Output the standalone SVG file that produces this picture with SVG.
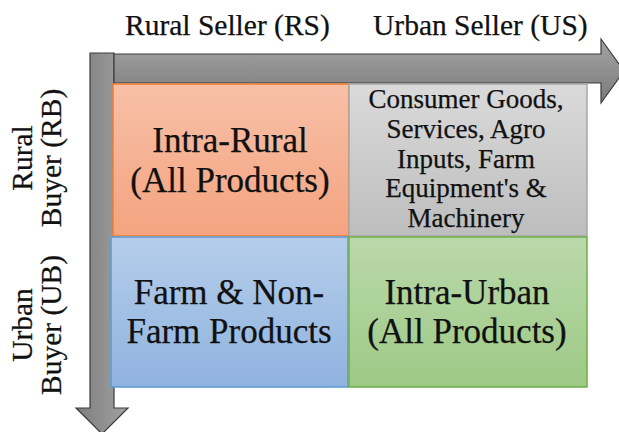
<svg xmlns="http://www.w3.org/2000/svg" width="619" height="432" viewBox="0 0 619 432">
  <defs>
    <linearGradient id="gArrowH" x1="0" y1="0" x2="0" y2="1">
      <stop offset="0" stop-color="#a3a3a3"/>
      <stop offset="1" stop-color="#7b7b7b"/>
    </linearGradient>
    <linearGradient id="gArrowV" x1="0" y1="0" x2="1" y2="0">
      <stop offset="0" stop-color="#7d7d7d"/>
      <stop offset="1" stop-color="#a2a2a2"/>
    </linearGradient>
    <linearGradient id="gOrange" x1="0" y1="0" x2="0" y2="1">
      <stop offset="0" stop-color="#f7c0a7"/>
      <stop offset="1" stop-color="#f4a37f"/>
    </linearGradient>
    <linearGradient id="gGray" x1="0" y1="0" x2="0" y2="1">
      <stop offset="0" stop-color="#dadada"/>
      <stop offset="1" stop-color="#bdbdbd"/>
    </linearGradient>
    <linearGradient id="gBlue" x1="0" y1="0" x2="0" y2="1">
      <stop offset="0" stop-color="#b5cdea"/>
      <stop offset="1" stop-color="#8fb3df"/>
    </linearGradient>
    <linearGradient id="gGreen" x1="0" y1="0" x2="0" y2="1">
      <stop offset="0" stop-color="#bad9ab"/>
      <stop offset="1" stop-color="#9dc985"/>
    </linearGradient>
  </defs>
  <style>
    text { font-family: "Liberation Serif", "Times New Roman", serif; fill: #111; stroke: #111; stroke-width: 0.25; }
    .axis { font-size: 29.5px; }
    .big { font-size: 35px; text-anchor: middle; }
    .small { font-size: 27px; text-anchor: middle; }
    .vlab { font-size: 29.5px; text-anchor: middle; }
    .arrow { stroke: #3c3c3c; stroke-width: 1.2; stroke-linejoin: miter; }
  </style>

  <!-- axes -->
  <g id="connectors">
    <path class="arrow" fill="url(#gArrowV)" d="M90,53 H114 V408 H128 L102,434 L76,408 H90 Z"/>
    <path class="arrow" fill="url(#gArrowH)" d="M114,54 H601 V39 L624,71 L601,103 V83 H114 Z"/>
  </g>

  <!-- axis labels -->
  <g id="seller-labels">
    <text class="axis" x="125" y="35">Rural Seller (RS)</text>
    <text class="axis" x="373" y="35">Urban Seller (US)</text>
  </g>
  <g id="buyer-labels">
    <text class="vlab" transform="translate(32,158) rotate(-90)">Rural</text>
    <text class="vlab" transform="translate(61,158) rotate(-90)">Buyer (RB)</text>
    <text class="vlab" transform="translate(32,325) rotate(-90)">Urban</text>
    <text class="vlab" transform="translate(61,325) rotate(-90)">Buyer (UB)</text>
  </g>

  <!-- quadrants -->
  <g id="intra-rural">
    <rect x="113" y="84" width="236" height="152" fill="url(#gOrange)" stroke="#ed7d31" stroke-width="1.5"/>
    <text class="big" x="230" y="152">Intra-Rural</text>
    <text class="big" x="230" y="192">(All Products)</text>
  </g>
  <g id="urban-to-rural">
    <rect x="349" y="84" width="238" height="152" fill="url(#gGray)" stroke="#a6a6a6" stroke-width="1.5"/>
    <text class="small" x="466" y="108">Consumer Goods,</text>
    <text class="small" x="466" y="138">Services, Agro</text>
    <text class="small" x="466" y="168">Inputs, Farm</text>
    <text class="small" x="466" y="197">Equipment's &amp;</text>
    <text class="small" x="466" y="227">Machinery</text>
  </g>
  <g id="rural-to-urban">
    <rect x="111" y="237" width="237" height="150" fill="url(#gBlue)" stroke="#5b9bd5" stroke-width="1.5"/>
    <text class="big" x="229" y="304">Farm &amp; Non-</text>
    <text class="big" x="229" y="343">Farm Products</text>
  </g>
  <g id="intra-urban">
    <rect x="349" y="237" width="238" height="150" fill="url(#gGreen)" stroke="#70ad47" stroke-width="1.5"/>
    <text class="big" x="467" y="304">Intra-Urban</text>
    <text class="big" x="467" y="343">(All Products)</text>
  </g>
</svg>
